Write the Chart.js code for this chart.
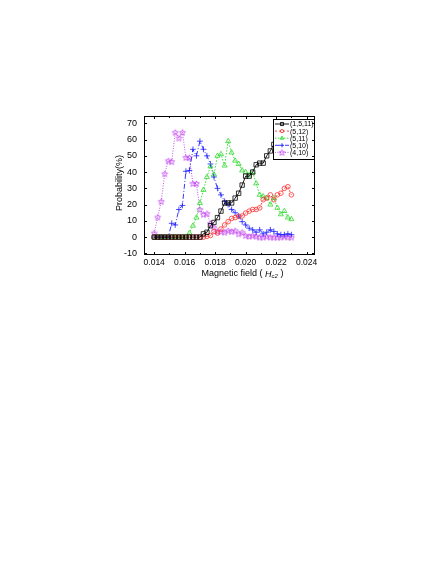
<!DOCTYPE html>
<html>
<head>
<meta charset="utf-8">
<script src="https://cdn.jsdelivr.net/npm/chart.js@4.4.1/dist/chart.umd.min.js"></script>
<style>
  html, body { margin: 0; padding: 0; background: #fff; }
  #wrap { position: relative; width: 436px; height: 564px; }
</style>
</head>
<body>
<div id="wrap"><canvas id="probChart"></canvas></div>
<script>
// magnetic field values (units of Hc2), shared by all curves
const fields = [0.01400, 0.01423, 0.01446, 0.01469, 0.01492, 0.01515, 0.01538, 0.01562, 0.01585, 0.01608,
                0.01631, 0.01654, 0.01677, 0.01700, 0.01723, 0.01746, 0.01769, 0.01792, 0.01815, 0.01838,
                0.01862, 0.01885, 0.01908, 0.01931, 0.01954, 0.01977, 0.02000, 0.02023, 0.02046, 0.02069,
                0.02092, 0.02115, 0.02138, 0.02162, 0.02185, 0.02208, 0.02231, 0.02254, 0.02277, 0.02300];

// probabilities in %
const p1511 = [0, 0, 0, 0, 0, 0, 0, 0, 0, 0, 0, 0, 0, 0, 2, 3, 7, 9, 12, 16,
               21, 21, 21, 24, 27, 32, 37.5, 37.5, 40, 44.5, 45.5, 45.5, 50, 53, 57, 60, null, null, null, null];
const p512 = [0, 0, 0, 0, 0, 0, 0, 0, 0, 0, 0, 0, 0, 0, 0, 0.5, 1, 3.5, 2.5, 5,
              7.5, 9.5, 11.5, 12, 12.8, 13, 14.8, 16, 17, 17, 18, 23, 24, 26, 23, 26, 27, 30, 31, 26];
const p511 = [0, 0, 0, 0, 0, 0, 0, 0, 0, 0, 2.5, 7, 12, 21, 29, 37, 43.5, 38.5, 50, 51,
              44, 59, 52, 47, 45, 41, 40, 38, 40, 33, 26, 25, 24, 20, 24, 18, 14, 16, 12, 11];
const p510 = [0, 0, 0, 0, 0, 8.5, 7.5, 17, 19.5, 40.5, 41, 54, 50, 59, 54, 50, 45, 37, 30, 26,
              22, 20, 17, 15, 13, 9.5, 7.5, 5.5, 4.5, 3, 4.5, 2, 3, 4.5, 3.5, 2, 1.5, 1.5, 2, 1.5];
const p410 = [2.5, 12.3, 22, 39, 47, 46.5, 64.5, 61, 64.5, 49, 49, 33, 33, 17, 14, 14.5, 8.5, 6, 3.5, 3.5,
              3, 4, 3.5, 4, 2, 3, 1, 0.5, 1, 0.5, 0, 0, 0.5, 0, 0, 0, 0, 0.5, 0, 0];

const seriesNames = ["(1,5,11)", "(5,12)", "(5,11)", "(5,10)", "(4,10)"];
const xTicks = [0.014, 0.016, 0.018, 0.020, 0.022, 0.024];
const yTicks = [-10, 0, 10, 20, 30, 40, 50, 60, 70];

const FONT = "'Liberation Sans', Arial, sans-serif";

function toPoints(vals) {
    return fields.map((x, i) => ({x: x, y: vals[i]})).filter(p => p.y !== null);
}

// hollow five-point star used as point style for (4,10)
function makeStar(color, r) {
    const s = Math.ceil(r * 2 + 2);
    const c = document.createElement("canvas");
    c.width = s; c.height = s;
    const g = c.getContext("2d");
    g.strokeStyle = color;
    g.lineWidth = 0.8;
    g.beginPath();
    for (let k = 0; k < 10; k++) {
        const rr = k % 2 ? r * 0.45 : r;
        const ang = -Math.PI / 2 + k * Math.PI / 5;
        const px = s / 2 + rr * Math.cos(ang), py = s / 2 + 0.4 + rr * Math.sin(ang);
        if (k) g.lineTo(px, py); else g.moveTo(px, py);
    }
    g.closePath();
    g.stroke();
    return c;
}

function series(label, vals, color, dash, style, radius) {
    return {
        label: label,
        data: toPoints(vals),
        borderColor: color,
        borderWidth: 0.9,
        borderDash: dash,
        pointStyle: style,
        pointRadius: radius,
        pointHoverRadius: radius,
        pointBorderColor: color,
        pointBackgroundColor: "rgba(0,0,0,0)",
        pointBorderWidth: 0.8,
        tension: 0,
        fill: false
    };
}

// inward ticks, frame and axis titles
const framePlugin = {
    id: "frame",
    afterDraw(chart) {
        const {ctx, chartArea: a, scales} = chart;
        const x = scales.x, y = scales.y;
        ctx.save();
        ctx.strokeStyle = "#000";
        ctx.lineWidth = 1;
        ctx.strokeRect(Math.round(a.left) + 0.5, Math.round(a.top) + 0.5,
                       Math.round(a.width) - 1, Math.round(a.height) - 1);
        ctx.beginPath();
        for (let v = 0.014; v <= 0.0245; v += 0.001) {
            const px = Math.round(x.getPixelForValue(v)) + 0.5;
            const len = Math.abs(Math.round(v * 1000) % 2) === 0 ? 3 : 2;
            ctx.moveTo(px, a.bottom); ctx.lineTo(px, a.bottom - len);
            ctx.moveTo(px, a.top); ctx.lineTo(px, a.top + len);
        }
        yTicks.forEach(v => {
            const py = Math.round(y.getPixelForValue(v)) + 0.5;
            ctx.moveTo(a.left, py); ctx.lineTo(a.left + 3, py);
            ctx.moveTo(a.right, py); ctx.lineTo(a.right - 3, py);
        });
        ctx.stroke();

        // y title
        ctx.fillStyle = "#000";
        ctx.font = "9px " + FONT;
        ctx.textAlign = "center";
        ctx.textBaseline = "middle";
        ctx.save();
        ctx.translate(a.left - 24, a.top + 67);
        ctx.rotate(-Math.PI / 2);
        ctx.fillText("Probability(%)", 0, 0);
        ctx.restore();

        // x title with subscript
        const parts = [
            {t: "Magnetic field ( ", f: "9px " + FONT, dy: 0},
            {t: "H", f: "italic 9px " + FONT, dy: 0},
            {t: "c2", f: "italic 6px " + FONT, dy: 2.5},
            {t: " )", f: "9px " + FONT, dy: 0}
        ];
        let total = 0;
        parts.forEach(p => { ctx.font = p.f; p.w = ctx.measureText(p.t).width; total += p.w; });
        let cx = (a.left + a.right) / 2 + 13 - total / 2;
        const cy = a.bottom + 19;
        ctx.textAlign = "left";
        parts.forEach(p => { ctx.font = p.f; ctx.fillText(p.t, cx, cy + p.dy); cx += p.w; });
        ctx.restore();
    }
};

// boxed legend inside the plot, top right
const legendPlugin = {
    id: "boxLegend",
    afterDatasetsDraw(chart) {
        const {ctx, chartArea: a} = chart;
        const w = 42, h = 41, rowH = 7.1;
        const left = Math.round(a.right) - w, top = Math.round(a.top) + 3;
        ctx.save();
        ctx.fillStyle = "#fff";
        ctx.fillRect(left, top, w, h);
        ctx.strokeStyle = "#000";
        ctx.lineWidth = 1;
        ctx.setLineDash([]);
        ctx.strokeRect(left + 0.5, top + 0.5, w - 1, h - 1);
        ctx.font = "7px " + FONT;
        ctx.textBaseline = "middle";
        ctx.textAlign = "left";
        chart.data.datasets.forEach((ds, i) => {
            const cy = top + 5 + i * rowH;
            ctx.strokeStyle = ds.borderColor;
            ctx.lineWidth = 0.9;
            ctx.setLineDash(ds.borderDash || []);
            ctx.beginPath();
            ctx.moveTo(left + 2, cy); ctx.lineTo(left + 16, cy);
            ctx.stroke();
            ctx.setLineDash([]);
            ctx.fillStyle = "rgba(0,0,0,0)";
            if (Chart.helpers && Chart.helpers.drawPoint) {
                Chart.helpers.drawPoint(ctx, {pointStyle: ds.pointStyle, radius: ds.pointRadius * 0.7,
                                              rotation: 0, borderWidth: 0.8}, left + 9, cy);
            }
            ctx.fillStyle = "#000";
            ctx.fillText(ds.label, left + 17, cy + 0.5);
        });
        ctx.restore();
    }
};

const ctx = document.getElementById("probChart").getContext("2d");
new Chart(ctx, {
    type: "line",
    data: {
        datasets: [
            series(seriesNames[0], p1511, "#000000", [], "rect", 3.1),
            series(seriesNames[1], p512, "#ff3030", [2, 2], "circle", 2.3),
            series(seriesNames[2], p511, "#2cd82c", [1.5, 1.5], "triangle", 2.9),
            series(seriesNames[3], p510, "#2020ff", [5, 2, 1, 2], "cross", 2.9),
            series(seriesNames[4], p410, "#c040f0", [1, 1.5], makeStar("#c040f0", 3.1), 3)
        ]
    },
    options: {
        responsive: true,
        maintainAspectRatio: false,
        animation: false,
        devicePixelRatio: 1,
        layout: { padding: { left: 100, top: 116, right: 121, bottom: 289 } },
        plugins: { legend: { display: false }, tooltip: { enabled: false } },
        scales: {
            x: {
                type: "linear",
                min: 0.01333,
                max: 0.02455,
                afterBuildTicks: axis => { axis.ticks = xTicks.map(v => ({value: v})); },
                afterFit: axis => { axis.height = 20; },
                grid: { display: false, drawTicks: false },
                border: { display: false },
                ticks: {
                    padding: 3,
                    color: "#000",
                    maxRotation: 0,
                    font: { family: FONT, size: 8.5 },
                    callback: v => v.toFixed(3)
                }
            },
            y: {
                type: "linear",
                min: -11,
                max: 74.5,
                afterBuildTicks: axis => { axis.ticks = yTicks.map(v => ({value: v})); },
                afterFit: axis => { axis.width = 44; },
                grid: { display: false, drawTicks: false },
                border: { display: false },
                ticks: {
                    padding: 7,
                    color: "#000",
                    font: { family: FONT, size: 9 },
                    callback: v => String(v)
                }
            }
        }
    },
    plugins: [legendPlugin, framePlugin]
});
</script>
</body>
</html>
